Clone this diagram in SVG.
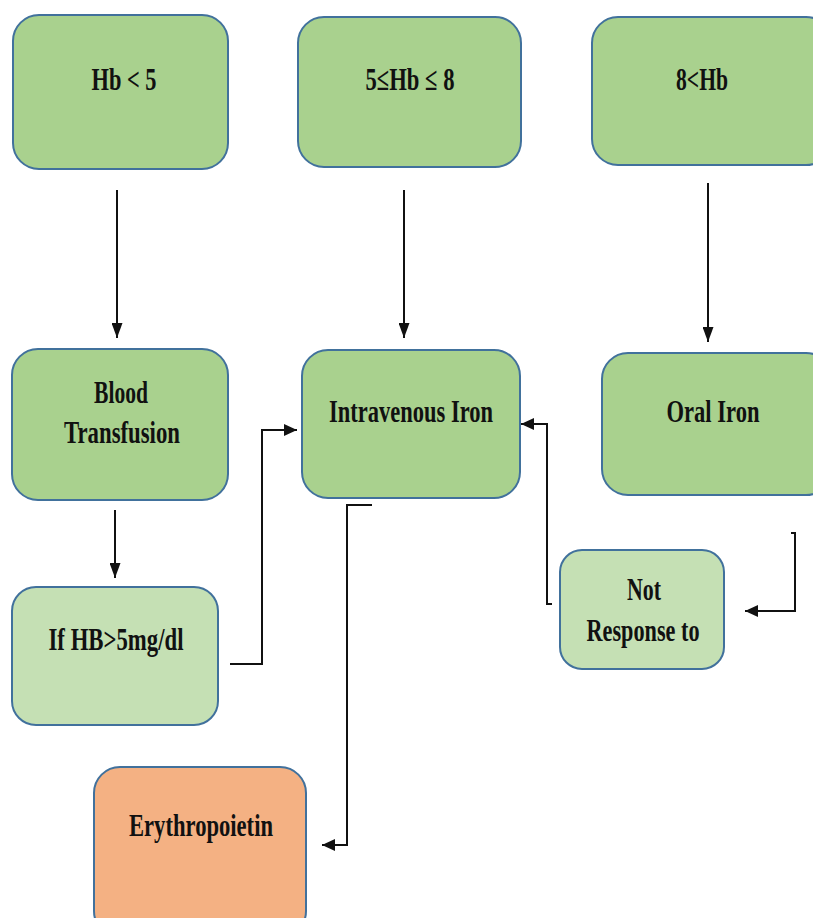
<svg xmlns="http://www.w3.org/2000/svg" width="813" height="918" viewBox="0 0 813 918">
<style>
.box{stroke:#41719c;stroke-width:2}
.g{fill:#a9d18e}
.lg{fill:#c5e0b4}
.o{fill:#f4b183}
text{font-family:"Liberation Serif","Times New Roman",serif;font-weight:bold;font-size:32px;fill:#111;text-anchor:middle}
.c{fill:none;stroke:#111;stroke-width:2}
</style>
<defs>
<marker id="ah" viewBox="0 0 10 14" refX="10" refY="7" markerWidth="15" markerHeight="11" markerUnits="userSpaceOnUse" orient="auto" preserveAspectRatio="none">
<path d="M0,0 L10,7 L0,14 z" fill="#111"/>
</marker>
<marker id="ahb" viewBox="0 0 10 10" refX="10" refY="5" markerWidth="13" markerHeight="12" markerUnits="userSpaceOnUse" orient="auto" preserveAspectRatio="none">
<path d="M0,0 L10,5 L0,10 z" fill="#111"/>
</marker>
</defs>
<rect width="813" height="918" fill="#fff"/>
<g id="n-hb5">
<rect class="box g" x="13" y="15" width="215" height="154" rx="26"/>
<text x="124" y="90" textLength="65" lengthAdjust="spacingAndGlyphs">Hb &lt; 5</text>
</g>
<g id="n-hb58">
<rect class="box g" x="298" y="17" width="223" height="150" rx="26"/>
<text x="410" y="90" textLength="89" lengthAdjust="spacingAndGlyphs">5≤Hb ≤ 8</text>
</g>
<g id="n-hb8">
<rect class="box g" x="592" y="17" width="240" height="148" rx="26"/>
<text x="702" y="90" textLength="52" lengthAdjust="spacingAndGlyphs">8&lt;Hb</text>
</g>
<g id="n-blood">
<rect class="box g" x="12" y="349" width="216" height="151" rx="26"/>
<text x="121" y="403" textLength="54" lengthAdjust="spacingAndGlyphs">Blood</text>
<text x="122" y="443" textLength="116" lengthAdjust="spacingAndGlyphs">Transfusion</text>
</g>
<g id="n-iv">
<rect class="box g" x="302" y="350" width="218" height="148" rx="26"/>
<text x="411" y="422" textLength="164" lengthAdjust="spacingAndGlyphs">Intravenous Iron</text>
</g>
<g id="n-oral">
<rect class="box g" x="602" y="353" width="230" height="142" rx="26"/>
<text x="713" y="422" textLength="93" lengthAdjust="spacingAndGlyphs">Oral Iron</text>
</g>
<g id="n-ifhb">
<rect class="box lg" x="12" y="587" width="206" height="138" rx="24"/>
<text x="116" y="650" textLength="135" lengthAdjust="spacingAndGlyphs">If HB&gt;5mg/dl</text>
</g>
<g id="n-notresp">
<rect class="box lg" x="560" y="550" width="164" height="119" rx="22"/>
<text x="644" y="600" textLength="34" lengthAdjust="spacingAndGlyphs">Not</text>
<text x="643" y="641" textLength="113" lengthAdjust="spacingAndGlyphs">Response to</text>
</g>
<g id="n-epo">
<rect class="box o" x="94" y="767" width="212" height="170" rx="26"/>
<text x="201" y="836" textLength="144" lengthAdjust="spacingAndGlyphs">Erythropoietin</text>
</g>
<g id="connectors">
<path class="c" d="M117,190 V338" marker-end="url(#ah)" stroke-width="1.6"/>
<path class="c" d="M404,190 V338" marker-end="url(#ah)" stroke-width="1.6"/>
<path class="c" d="M708,183 V342" marker-end="url(#ah)" stroke-width="1.6"/>
<path class="c" d="M115,510 V578" marker-end="url(#ah)" stroke-width="1.6"/>
<path class="c" d="M230,664 H262 V430 H297" marker-end="url(#ahb)"/>
<path class="c" d="M552,604 H547 V424 H521" marker-end="url(#ahb)"/>
<path class="c" d="M791,533 H795 V611 H745" marker-end="url(#ahb)"/>
<path class="c" d="M372,505 H347 V845 H322" marker-end="url(#ahb)"/>
</g>
</svg>
